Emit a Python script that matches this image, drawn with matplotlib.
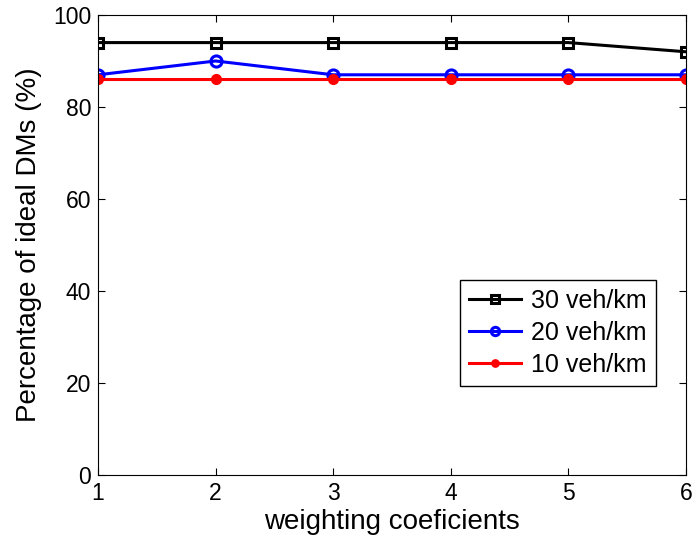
import numpy as np
import matplotlib
matplotlib.use('Agg')
import matplotlib.pyplot as plt

plt.rcParams['font.family'] = ['Liberation Sans', 'DejaVu Sans']

x = [1, 2, 3, 4, 5, 6]  # weighting coefficients
d30 = [94, 94, 94, 94, 94, 92]
d20 = [87, 90, 87, 87, 87, 87]
d10 = [86, 86, 86, 86, 86, 86]

fig = plt.figure(figsize=(6.92, 5.41), dpi=100)
ax = fig.add_axes([0.1416, 0.122, 0.8497, 0.8503])

ax.plot(x, d30, 'k-s', lw=2.2, ms=7, mfc='none', mew=2.2, label='30 veh/km')
ax.plot(x, d20, 'b-o', lw=2.2, ms=8, mfc='none', mew=2.2, label='20 veh/km')
ax.plot(x, d10, 'r-o', lw=2.2, ms=7, label='10 veh/km')

ax.set_xlim(1, 6)
ax.set_ylim(0, 100)
ax.set_xticks(x)
ax.set_yticks([0, 20, 40, 60, 80, 100])
ax.tick_params(direction='in', top=True, right=True, labelsize=16.5, length=5, pad=5)
ax.set_xlabel('weighting coeficients', fontsize=20, labelpad=3)
ax.set_ylabel('Percentage of ideal DMs (%)', fontsize=20, labelpad=8)

leg = ax.legend(loc='upper left', bbox_to_anchor=(0.616, 0.424), fontsize=18,
                fancybox=False, edgecolor='k', framealpha=1, markerscale=0.75,
                handlelength=2.1, handletextpad=0.4, borderpad=0.35, labelspacing=0.33,
                borderaxespad=0)
leg.get_frame().set_linewidth(1)

plt.savefig('out.png')
